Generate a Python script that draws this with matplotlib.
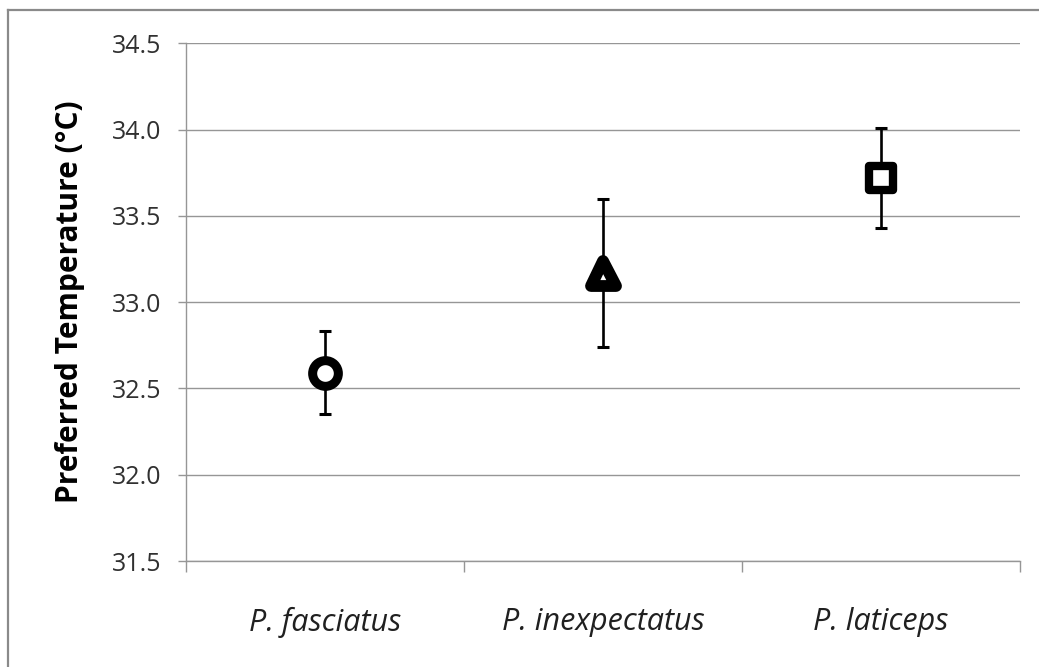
import matplotlib
matplotlib.use("Agg")
import matplotlib.pyplot as plt
from matplotlib.markers import MarkerStyle
from matplotlib.lines import Line2D

species = ['P. fasciatus', 'P. inexpectatus', 'P. laticeps']
mean_temp = [32.59, 33.17, 33.72]
err_temp = [0.24, 0.43, 0.29]
markers = ['o', '^', 's']
marker_sizes = [18.5, 18.0, 17.5]
edge_widths = [6.5, 8.5, 6.0]

yticks = [31.5, 32.0, 32.5, 33.0, 33.5, 34.0, 34.5]

plt.rcParams['font.family'] = ['Open Sans', 'DejaVu Sans']

fig = plt.figure(figsize=(10.39, 6.67), dpi=100)
ax = fig.add_axes([186 / 1039, 1 - 561 / 667, (1020 - 186) / 1039, (561 - 43.3) / 667])

grid_col = '#969696'
xpos = [i + 0.5 for i in range(len(species))]

for x, m, e, mk, ms, mew in zip(xpos, mean_temp, err_temp, markers, marker_sizes, edge_widths):
    ax.errorbar(x, m, yerr=e, fmt='none', ecolor='black', elinewidth=1.9,
                capsize=4.6, capthick=2.2, zorder=3)
    ax.plot(x, m, linestyle='none', marker=MarkerStyle(mk, joinstyle='round'),
            markersize=ms, markerfacecolor='white', markeredgecolor='black',
            markeredgewidth=mew, zorder=4)

ax.set_xlim(0, 3)
ax.set_ylim(31.5, 34.5)
ax.set_yticks(yticks)
ax.set_yticklabels([f'{v:.1f}' for v in yticks])
ax.yaxis.grid(True, color=grid_col, linewidth=1.0)
ax.set_axisbelow(True)

# category boundaries carry the tick marks, names sit between them
ax.set_xticks([0, 1, 2, 3])
ax.set_xticklabels([])
ax.set_xticks(xpos, minor=True)
ax.set_xticklabels(species, minor=True, style='italic', fontsize=22, color='#202020')
ax.tick_params(axis='x', which='major', length=8, width=1.0, color=grid_col, direction='out')
ax.tick_params(axis='x', which='minor', length=0, pad=33)
ax.tick_params(axis='y', length=6, width=1.0, color=grid_col, pad=12,
               labelsize=18, labelcolor='#303030')

for side in ['top', 'right']:
    ax.spines[side].set_visible(False)
for side in ['left', 'bottom']:
    ax.spines[side].set_color(grid_col)
    ax.spines[side].set_linewidth(1.0)

ax.set_ylabel('Preferred Temperature (°C)', fontsize=21.5, fontweight='bold')
ax.yaxis.set_label_coords(-0.121, 0.5)

# chart frame (left and top edges)
fig.add_artist(Line2D([8 / 1039, 8 / 1039], [0, 1 - 10 / 667], transform=fig.transFigure,
                      color='#8a8a8a', linewidth=1.6))
fig.add_artist(Line2D([8 / 1039, 1], [1 - 10 / 667, 1 - 10 / 667], transform=fig.transFigure,
                      color='#8a8a8a', linewidth=1.6))

fig.savefig('out.png', dpi=100)
